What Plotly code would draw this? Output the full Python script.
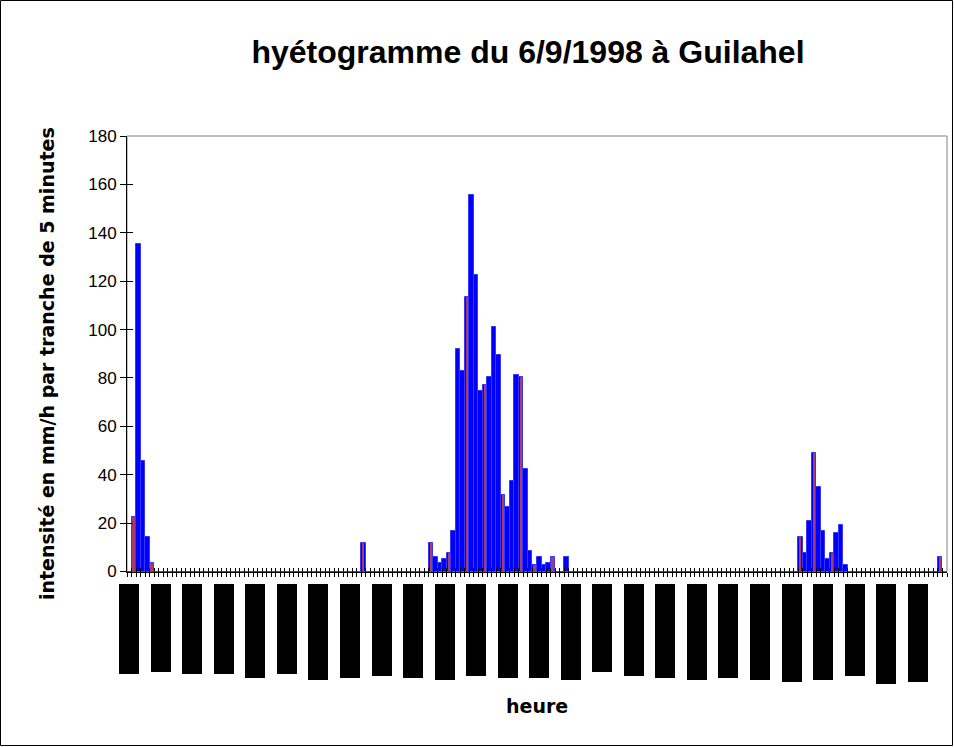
import plotly.graph_objects as go

# ---------------- data ----------------
# rain intensity (mm/h per 5-minute slot), one value per time slot
intensity = [
    0, 22.5, 135.2, 45.6, 14.2, 3.4, 0, 0, 0, 0,            # 0-9
    0, 0, 0, 0, 0, 0, 0, 0, 0, 0,                           # 10-19
    0, 0, 0, 0, 0, 0, 0, 0, 0, 0,                           # 20-29
    0, 0, 0, 0, 0, 0, 0, 0, 0, 0,                           # 30-39
    0, 0, 0, 0, 0, 0, 0, 0, 0, 0,                           # 40-49
    0, 0, 11.7, 0, 0, 0, 0, 0, 0, 0,                        # 50-59
    0, 0, 0, 0, 0, 0, 0, 11.7, 5.9, 3.4,                    # 60-69
    5.1, 7.6, 16.7, 92.1, 83.0, 113.6, 155.8, 122.7, 74.8, 77.2,  # 70-79
    80.5, 101.2, 89.6, 31.7, 26.8, 37.5, 81.4, 80.5, 42.5, 8.4,   # 80-89
    2.6, 5.9, 2.6, 3.4, 5.9, 0, 0, 5.9, 0, 0,               # 90-99
    0, 0, 0, 0, 0, 0, 0, 0, 0, 0,                           # 100-109
    0, 0, 0, 0, 0, 0, 0, 0, 0, 0,                           # 110-119
    0, 0, 0, 0, 0, 0, 0, 0, 0, 0,                           # 120-129
    0, 0, 0, 0, 0, 0, 0, 0, 0, 0,                           # 130-139
    0, 0, 0, 0, 0, 0, 0, 0, 0, 14.2,                        # 140-149
    7.6, 20.8, 49.0, 34.9, 16.7, 5.1, 7.6, 15.9, 19.2, 2.6, # 150-159
    0, 0, 0, 0, 0, 0, 0, 0, 0, 0,                           # 160-169
    0, 0, 0, 0, 0, 0, 0, 0, 0, 0,                           # 170-179
    5.9, 0,                                                 # 180-181
]
slots = list(range(len(intensity)))

# slots showing the reddish inner stroke
red_slots = [1, 5, 52, 67, 71, 75, 79, 83, 87, 90, 94, 149, 152, 156, 180]
red_values = [intensity[i] for i in red_slots]

# hour labels (rendered as solid blocks in the original), one every 7 slots
label_slots = list(range(0, 176, 7))
label_len = [90, 88, 90, 90, 94, 90, 96, 94, 92, 94, 96, 92, 94,
             94, 96, 88, 92, 94, 96, 94, 96, 98, 96, 92, 100, 98]

y_ticks = [0, 20, 40, 60, 80, 100, 120, 140, 160, 180]

# ---------------- geometry ----------------
W, H = 954, 747
ML, MR, MT, MB = 100, 7, 136, 57
PW = W - ML - MR
PH = H - MT - MB


def px_x(px):
    return (px - ML) / PW


def px_y(py):
    return (H - MB - py) / PH


n = len(intensity)
x_dom0 = px_x(127)
units_per_px = n / (PW * (1 - x_dom0))
x2_lo = -0.5 - (127 - ML) * units_per_px
block_w = 20 * units_per_px
y_dom0 = px_y(571.5)
y2_top = px_y(584)
y2_span = (H - MB) - 584

fig = go.Figure()

fig.add_trace(go.Bar(
    x=slots, y=intensity, width=1,
    marker=dict(color="#0000ff", line=dict(color="#3636ff", width=1)),
    hoverinfo="skip", showlegend=False,
))
fig.add_trace(go.Bar(
    x=red_slots, y=red_values, width=0.38,
    marker=dict(color="#a83c64", line=dict(width=0)),
    hoverinfo="skip", showlegend=False,
))
fig.add_trace(go.Bar(
    x=label_slots, y=label_len, width=block_w,
    xaxis="x2", yaxis="y2",
    marker=dict(color="#000000", line=dict(width=0)),
    hoverinfo="skip", showlegend=False,
))
# dummy traces so overlay tick axes are drawn
fig.add_trace(go.Scatter(x=[0], y=[-10], xaxis="x3", yaxis="y", mode="markers",
                         marker=dict(opacity=0), hoverinfo="skip", showlegend=False))
fig.add_trace(go.Scatter(x=[0], y=[-10], xaxis="x", yaxis="y3", mode="markers",
                         marker=dict(opacity=0), hoverinfo="skip", showlegend=False))

tick_font = dict(family="Liberation Sans, Arial, sans-serif", size=17, color="#000000")

fig.update_layout(
    width=W, height=H,
    margin=dict(l=ML, r=MR, t=MT, b=MB, autoexpand=False),
    paper_bgcolor="#ffffff", plot_bgcolor="rgba(0,0,0,0)",
    barmode="overlay", bargap=0, hovermode=False, showlegend=False,
    title=dict(
        text="<b>hyétogramme du 6/9/1998 à Guilahel</b>",
        font=dict(family="Liberation Sans, Arial, sans-serif", size=32, color="#000000"),
        x=528 / W, xanchor="center", xref="container",
        y=1 - 52 / H, yanchor="middle", yref="container",
    ),
    xaxis=dict(
        domain=[x_dom0, 1], range=[-0.5, n - 0.5], anchor="y",
        tickmode="linear", tick0=-0.5, dtick=1,
        ticks="outside", ticklen=4, tickwidth=1, tickcolor="#000000",
        showticklabels=False, showgrid=False, zeroline=False,
        showline=True, linecolor="#000000", linewidth=1,
    ),
    xaxis3=dict(
        overlaying="x", range=[-0.5, n - 0.5], anchor="y",
        tickmode="linear", tick0=-0.5, dtick=1,
        ticks="inside", ticklen=4, tickwidth=1, tickcolor="#000000",
        showticklabels=False, showgrid=False, zeroline=False, showline=False,
    ),
    yaxis=dict(
        domain=[y_dom0, 1], range=[0, 180], anchor="x",
        tickmode="array", tickvals=y_ticks, ticktext=[str(v) for v in y_ticks],
        ticks="outside", ticklen=6, tickwidth=1, tickcolor="#000000",
        tickfont=tick_font, showgrid=False, zeroline=False,
        showline=True, linecolor="#000000", linewidth=1,
    ),
    yaxis3=dict(
        overlaying="y", range=[0, 180], anchor="x", side="left",
        tickmode="array", tickvals=y_ticks,
        ticks="inside", ticklen=6, tickwidth=1, tickcolor="#000000",
        showticklabels=False, showgrid=False, zeroline=False, showline=False,
    ),
    xaxis2=dict(
        domain=[0, 1], range=[x2_lo, n - 0.5], anchor="y2", visible=False,
    ),
    yaxis2=dict(
        domain=[0, y2_top], range=[y2_span, 0], anchor="x2", visible=False,
    ),
    shapes=[
        dict(type="rect", xref="x domain", yref="y domain", x0=0, x1=1, y0=0, y1=1,
             line=dict(color="#808080", width=1), layer="below"),
        dict(type="rect", xref="paper", yref="paper",
             x0=px_x(0.5), x1=px_x(952.5), y0=px_y(745.5), y1=px_y(0.5),
             line=dict(color="#000000", width=1), layer="above"),
    ],
    annotations=[
        dict(text="<b>intensité en mm/h par tranche de 5 minutes</b>",
             xref="paper", yref="paper", x=px_x(47), y=px_y(364),
             xanchor="center", yanchor="middle", textangle=-90, showarrow=False,
             font=dict(family="DejaVu Sans, sans-serif", size=19, color="#000000")),
        dict(text="<b>heure</b>",
             xref="paper", yref="paper", x=px_x(536.5), y=px_y(706),
             xanchor="center", yanchor="middle", showarrow=False,
             font=dict(family="DejaVu Sans, sans-serif", size=19, color="#000000")),
    ],
)

fig.write_html(
    "out.html",
    config={"displayModeBar": False},
    post_script="document.body.style.margin='0';",
)
